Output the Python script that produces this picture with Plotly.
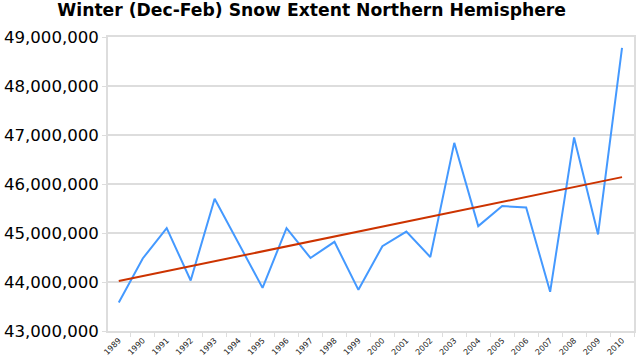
import plotly.graph_objects as go

years = [str(y) for y in range(1989, 2011)]
snow_extent = [43.58e6, 44.48e6, 45.10e6, 44.03e6, 45.70e6, 44.80e6, 43.88e6, 45.10e6,
               44.49e6, 44.82e6, 43.84e6, 44.73e6, 45.03e6, 44.51e6, 46.84e6, 45.14e6,
               45.55e6, 45.52e6, 43.80e6, 46.95e6, 44.97e6, 48.78e6]
trend_years = ["1989", "2010"]
trend_values = [44.02e6, 46.14e6]
y_ticks = [43e6, 44e6, 45e6, 46e6, 47e6, 48e6, 49e6]

fig = go.Figure()
fig.add_trace(go.Scatter(x=years, y=snow_extent, mode="lines",
                         line=dict(color="#4499ff", width=2), showlegend=False))
fig.add_trace(go.Scatter(x=trend_years, y=trend_values, mode="lines",
                         line=dict(color="#cc3300", width=2), showlegend=False))

fig.update_layout(
    template="none",
    width=636, height=356,
    margin=dict(l=108, r=2, t=37, b=25, autoexpand=False),
    paper_bgcolor="white", plot_bgcolor="white",
    title=dict(text="<b>Winter (Dec-Feb) Snow Extent Northern Hemisphere</b>",
               x=0.49, xanchor="center", xref="container", y=0.99, yanchor="top",
               yref="container",
               font=dict(family="DejaVu Sans", size=17.2, color="black")),
    xaxis=dict(type="category", categoryorder="array", categoryarray=years,
               range=[-0.45, 21.5], tickangle=-45, tickson="boundaries",
               ticks="outside", ticklen=4, tickcolor="#dddddd",
               showgrid=False, showline=True, linecolor="#dddddd", linewidth=1.5,
               mirror=True, automargin=False,
               tickfont=dict(family="DejaVu Sans", size=8, color="#222222"),
               zeroline=False),
    yaxis=dict(range=[43e6, 49e6], tickvals=y_ticks,
               ticktext=[f"{v:,.0f}" for v in y_ticks],
               ticks="outside", ticklen=4, tickcolor="#dddddd",
               showgrid=True, gridcolor="#dddddd", gridwidth=1.5,
               showline=True, linecolor="#dddddd", linewidth=1.5, mirror=True,
               automargin=False,
               tickfont=dict(family="DejaVu Sans", size=16.6, color="black"),
               zeroline=False),
)

fig.write_html("out.html", config={"displayModeBar": False},
               post_script="document.body.style.margin='0px';")
